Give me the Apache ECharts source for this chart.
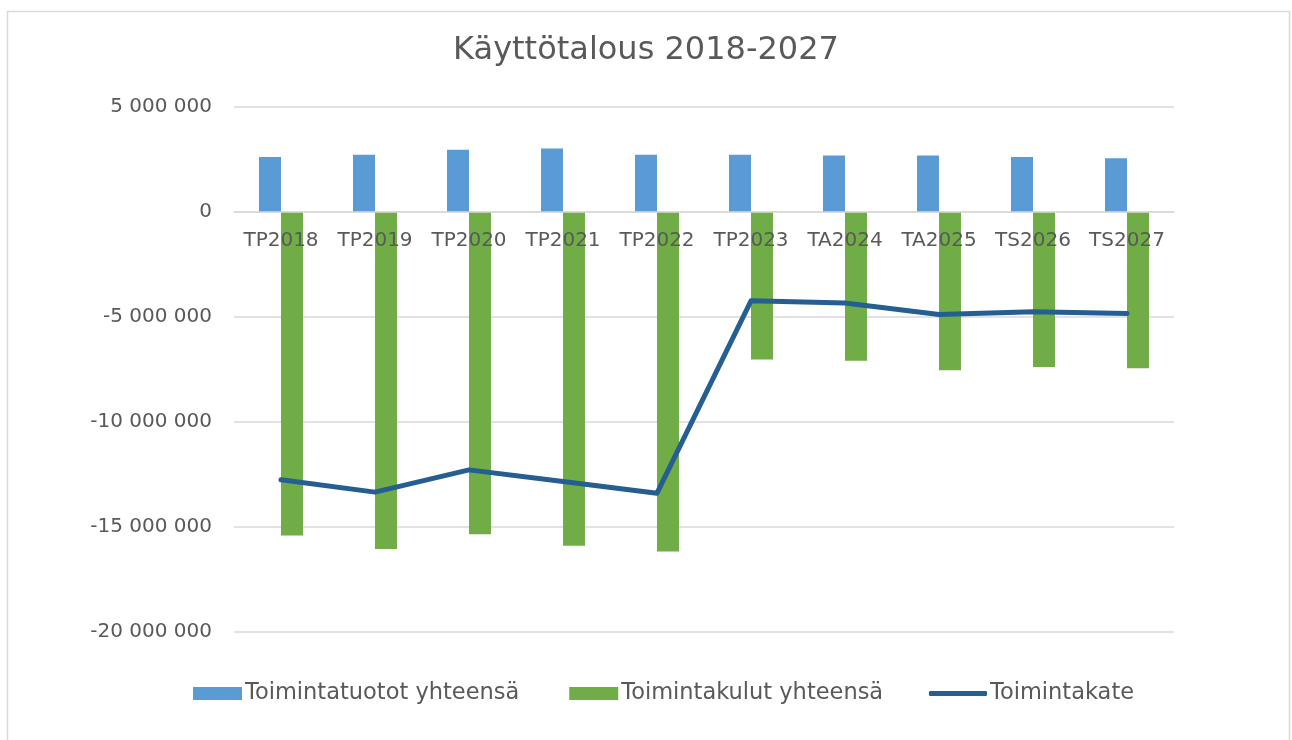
<!DOCTYPE html>
<html>
<head>
<meta charset="utf-8">
<script src="https://cdn.jsdelivr.net/npm/echarts@6/dist/echarts.min.js"></script>
<style>
  html, body { margin: 0; padding: 0; background: #ffffff; }
  #chart { width: 1292px; height: 740px; }
</style>
</head>
<body>
<div id="chart"></div>
<script>
const categories = ['TP2018', 'TP2019', 'TP2020', 'TP2021', 'TP2022', 'TP2023', 'TA2024', 'TA2025', 'TS2026', 'TS2027'];
const tuotot = [2620000, 2730000, 2970000, 3020000, 2730000, 2730000, 2690000, 2690000, 2620000, 2560000];
const kulut = [-15410000, -16050000, -15350000, -15890000, -16170000, -7020000, -7080000, -7540000, -7380000, -7440000];
const kate = [-12750000, -13340000, -12280000, -12830000, -13390000, -4230000, -4330000, -4880000, -4750000, -4830000];
const seriesNames = ['Toimintatuotot yhteensä', 'Toimintakulut yhteensä', 'Toimintakate'];
const titleText = 'Käyttötalous 2018-2027';

const textColor = '#595959';
const font = 'DejaVu Sans';

function fmt(v) {
  const neg = v < 0;
  const s = String(Math.abs(v)).replace(/\B(?=(\d{3})+(?!\d))/g, ' ');
  return (neg ? '-' : '') + s;
}

const legendText = { fontFamily: font, fontSize: 22.5, color: textColor, padding: [0, 0, 0, -2] };

const chart = echarts.init(document.getElementById('chart'), null, { renderer: 'canvas' });
chart.setOption({
  backgroundColor: '#ffffff',
  animation: false,
  graphic: [{
    type: 'rect',
    shape: { x: 7.5, y: 11.5, width: 1282, height: 760 },
    style: { fill: 'none', stroke: '#d9d9d9', lineWidth: 1.5 },
    silent: true, z: -1
  }],
  title: {
    text: titleText,
    left: 'center',
    top: 30,
    textStyle: { fontFamily: font, fontSize: 32, fontWeight: 'normal', color: textColor }
  },
  legend: [
    {
      left: 193,
      top: 682,
      padding: 0,
      itemWidth: 49,
      itemHeight: 13,
      itemGap: 50,
      textStyle: legendText,
      data: [
        { name: seriesNames[0], icon: 'rect' },
        { name: seriesNames[1], icon: 'rect' }
      ]
    },
    {
      left: 929,
      top: 682,
      padding: 0,
      itemWidth: 58,
      itemHeight: 5,
      textStyle: legendText,
      data: [{ name: seriesNames[2], icon: 'roundRect' }]
    }
  ],
  grid: { left: 234, right: 118, top: 107, bottom: 108 },
  xAxis: {
    type: 'category',
    data: categories,
    offset: -420,
    z: 4,
    axisLine: { onZero: false, lineStyle: { color: '#d9d9d9', width: 1.5 } },
    axisTick: { show: false },
    axisLabel: { fontFamily: font, fontSize: 20, color: textColor, margin: 19, interval: 0 },
    splitLine: { show: false }
  },
  yAxis: {
    type: 'value',
    min: -20000000,
    max: 5000000,
    interval: 5000000,
    axisLine: { show: false },
    axisTick: { show: false },
    axisLabel: { fontFamily: font, fontSize: 20, color: textColor, margin: 22, formatter: fmt },
    splitLine: { lineStyle: { color: '#d9d9d9', width: 1.5 } }
  },
  series: [
    {
      name: seriesNames[0], type: 'bar', data: tuotot,
      barWidth: 22, barGap: '0%',
      itemStyle: { color: '#5b9bd5' }
    },
    {
      name: seriesNames[1], type: 'bar', data: kulut,
      barWidth: 22,
      itemStyle: { color: '#70ad47' }
    },
    {
      name: seriesNames[2], type: 'line', data: kate,
      symbol: 'none', z: 5,
      lineStyle: { color: '#255e91', width: 5, cap: 'round', join: 'round' },
      itemStyle: { color: '#255e91' }
    }
  ]
});
</script>
</body>
</html>
